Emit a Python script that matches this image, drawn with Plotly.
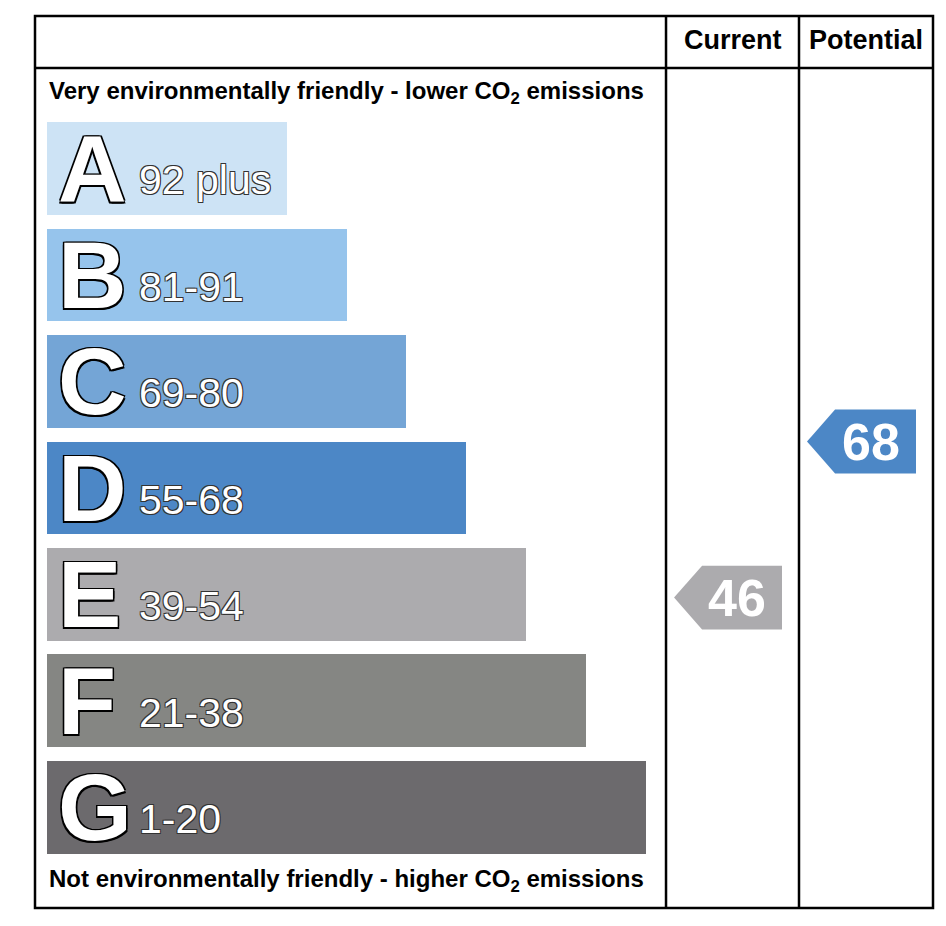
import plotly.graph_objects as go

# rating bands, top (best) to bottom (worst)
bands = ['A', 'B', 'C', 'D', 'E', 'F', 'G']
band_ranges = ['92 plus', '81-91', '69-80', '55-68', '39-54', '21-38', '1-20']
band_low = [92, 81, 69, 55, 39, 21, 1]
band_high = [100, 91, 80, 68, 54, 38, 20]
bar_length = [4, 5, 6, 7, 8, 9, 10]
band_colors = ['#cde3f5', '#96c4ec', '#74a5d6', '#4c87c6', '#acabae', '#858683', '#6c6a6d']

current_rating = 46
potential_rating = 68

FONT = 'Liberation Sans, Arial, sans-serif'
BAR_H = 0.873
ARROW_H = 0.60
COL_CURRENT = (10.334, 12.554)
COL_POTENTIAL = (12.554, 14.791)
OUTLINE = '-1.5px -1.5px 0 #000, 1.5px -1.5px 0 #000, -1.5px 1.5px 0 #000, 1.5px 1.5px 0 #000, 0 1.5px 0 #000, 0 -1.5px 0 #000'
THIN = '-1px -1px 0 #333, 1px -1px 0 #333, -1px 1px 0 #333, 1px 1px 0 #333'


def band_of(value):
    for i in range(len(bands)):
        if band_low[i] <= value <= band_high[i]:
            return i
    return len(bands) - 1


def arrow_y(value):
    i = band_of(value)
    frac = (value - band_low[i]) / (band_high[i] - band_low[i])
    return i + BAR_H / 2 - frac * BAR_H


def arrow_shape(value, col):
    # pentagon pointing left, placed inside the column
    left, right = col
    tip = left + 0.134
    notch = tip + 0.468
    end = right - 0.284
    yc = arrow_y(value)
    xs = [tip, notch, end, end, notch, tip]
    ys = [yc, yc - ARROW_H / 2, yc - ARROW_H / 2, yc + ARROW_H / 2, yc + ARROW_H / 2, yc]
    return xs, ys, (notch + end) / 2 - 0.08, yc


fig = go.Figure()

fig.add_trace(go.Bar(
    orientation='h',
    y=list(range(len(bands))),
    x=bar_length,
    base=0,
    width=BAR_H,
    marker=dict(color=band_colors, line=dict(width=0)),
    hoverinfo='skip',
    showlegend=False,
))

annotations = []
for i, (b, r) in enumerate(zip(bands, band_ranges)):
    annotations.append(dict(
        x=0.15, y=i, text=b, showarrow=False, xanchor='left', yanchor='middle',
        font=dict(family=FONT, size=95, color='white', weight='bold', shadow=OUTLINE),
    ))
    annotations.append(dict(
        x=1.51, y=i + 0.112, text=r, showarrow=False, xanchor='left', yanchor='middle',
        font=dict(family=FONT, size=41, color='white', shadow=THIN),
    ))

for value, col in [(current_rating, COL_CURRENT), (potential_rating, COL_POTENTIAL)]:
    xs, ys, tx, ty = arrow_shape(value, col)
    fig.add_trace(go.Scatter(
        x=xs, y=ys, mode='lines', fill='toself',
        fillcolor=band_colors[band_of(value)], line=dict(width=0),
        hoverinfo='skip', showlegend=False,
    ))
    annotations.append(dict(
        x=tx, y=ty, text=str(value), showarrow=False, xanchor='center', yanchor='middle',
        font=dict(family=FONT, size=52, color='white', weight='bold'),
    ))

# header and edge texts
annotations += [
    dict(x=sum(COL_CURRENT) / 2, y=-1.21, text='Current', showarrow=False,
         font=dict(family=FONT, size=27, color='black', weight='bold')),
    dict(x=sum(COL_POTENTIAL) / 2, y=-1.21, text='Potential', showarrow=False,
         font=dict(family=FONT, size=27, color='black', weight='bold')),
    dict(x=0.0, y=-0.718, text='Very environmentally friendly - lower CO<sub>2</sub> emissions',
         showarrow=False, xanchor='left',
         font=dict(family=FONT, size=24, color='black', weight='bold')),
    dict(x=0.0, y=6.69, text='Not environmentally friendly - higher CO<sub>2</sub> emissions',
         showarrow=False, xanchor='left',
         font=dict(family=FONT, size=24, color='black', weight='bold')),
]

line = dict(color='black', width=2.5)
shapes = [
    dict(type='rect', xref='paper', yref='paper', x0=0, x1=1, y0=0, y1=1, line=line),
    dict(type='line', xref='x', yref='paper', x0=COL_CURRENT[0], x1=COL_CURRENT[0], y0=0, y1=1, line=line),
    dict(type='line', xref='x', yref='paper', x0=COL_POTENTIAL[0], x1=COL_POTENTIAL[0], y0=0, y1=1, line=line),
    dict(type='line', xref='paper', yref='y', x0=0, x1=1, y0=-0.944, y1=-0.944, line=line),
]

# page body adds ~8px margin, so the figure is a bit smaller than the window
fig.update_layout(
    width=930, height=910,
    margin=dict(l=27, r=5, t=8, b=10),
    paper_bgcolor='white', plot_bgcolor='white',
    xaxis=dict(range=[-0.2003, 14.791], visible=False, fixedrange=True),
    yaxis=dict(range=[6.944, -1.432], visible=False, fixedrange=True),
    annotations=annotations,
    shapes=shapes,
    bargap=0,
)

fig.write_html('out.html', config=dict(displayModeBar=False))
